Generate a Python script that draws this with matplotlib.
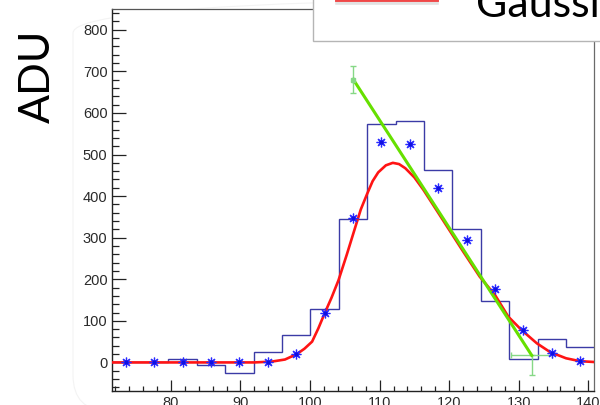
import numpy as np
import matplotlib
matplotlib.use('Agg')
import matplotlib.pyplot as plt
from matplotlib.patches import Rectangle, FancyBboxPatch
from matplotlib.lines import Line2D
from matplotlib.ticker import MultipleLocator
from matplotlib.transforms import IdentityTransform

# Histogram binning (17 bins)
bin_lo = 71.5
bin_width = 4.08
n_bins = 17

# Histogram contents (blue steps)
hist_counts = [0, 0, 8, -5, -26, 24, 66, 128, 344, 573, 580, 462, 320, 148, 9, 56, 37]

# Per-bin points drawn as stars
star_counts = [0, 0, 0, 0, 0, 0, 20, 119, 347, 530, 525, 419, 295, 177, 78, 22, 3]

# Gaussian fit curve sampled along x
fit_x = [71.5, 80, 88, 92, 94.5, 96.4, 98.1, 99.2, 100.3, 101.2, 102.1, 103.1,
         104.1, 105.3, 106.5, 107.3, 108.2, 109.0, 109.8, 110.9, 111.9, 112.8,
         113.7, 115.0, 116.3, 118.0, 120.0, 122.0, 124.4, 126.6, 128.5, 130.4,
         132.6, 134.5, 136.8, 138.8, 140.86]
fit_y = [0, 0, 0, 0, 2, 7, 20, 33, 50, 82, 118, 156,
         198, 260, 325, 368, 405, 436, 457, 474, 480, 477,
         467, 445, 415, 371, 319, 267, 206, 162, 110, 78,
         46, 25, 10, 3, 1]

# Falling-edge line with its two end points
edge_x = [106.24, 131.87]
edge_y = [680, 17]
edge_xerr = [[0, 2.97], [0, 2.97]]
edge_yerr = [[33, 48], [33, 0]]

edges = bin_lo + bin_width * np.arange(n_bins + 1)
centers = edges[:-1] + bin_width / 2

fig = plt.figure(figsize=(6, 4.05), dpi=100)
ax = fig.add_axes([0.1862, 0.0353, 0.8043, 0.9425])

ax.stairs(hist_counts, edges, baseline=None, color='#3b3ba6', linewidth=1.0, zorder=2)
ax.plot(fit_x, fit_y, color='#ff1414', linewidth=1.9, zorder=3, solid_capstyle='round')
ax.errorbar(edge_x, edge_y, xerr=edge_xerr, yerr=edge_yerr, fmt='none',
            ecolor='#86d886', elinewidth=1.0, capsize=2.5, capthick=1.0, zorder=4)
ax.plot(edge_x, edge_y, color='#66e000', linewidth=2.2, zorder=4)
ax.plot(edge_x[:1], edge_y[:1], 's', color='#86d886', markersize=3, zorder=4)
ax.plot(centers, star_counts, linestyle='none', marker=(8, 2, 0), markersize=7,
        markeredgewidth=0.9, color='#2a2aff', zorder=5)
ax.plot(centers, star_counts, linestyle='none', marker='o', markersize=1.8,
        color='#1010e0', zorder=5)

ax.set_xlim(edges[0], edges[-1])
ax.set_ylim(-68, 850)
ax.xaxis.set_major_locator(MultipleLocator(10))
ax.xaxis.set_minor_locator(MultipleLocator(2))
ax.yaxis.set_major_locator(MultipleLocator(100))
ax.yaxis.set_minor_locator(MultipleLocator(20))
ax.set_yticks(range(0, 900, 100))

ax.tick_params(axis='both', which='both', direction='in', color='#222222',
               labelcolor='#2a2a2a', labelsize=10.5, width=0.9, top=False, right=False)
ax.tick_params(axis='y', which='major', length=10, pad=3)
ax.tick_params(axis='y', which='minor', length=5)
ax.tick_params(axis='x', which='major', length=8, pad=4)
ax.tick_params(axis='x', which='minor', length=3.8)
for lbl in ax.get_xticklabels() + ax.get_yticklabels():
    lbl.set_fontfamily('Liberation Sans')

ax.spines['left'].set_color('#222222')
ax.spines['bottom'].set_color('#222222')
ax.spines['left'].set_linewidth(1.0)
ax.spines['bottom'].set_linewidth(1.0)
ax.spines['top'].set_color('#555555')
ax.spines['right'].set_color('#6a6a6a')
ax.spines['top'].set_linewidth(0.9)
ax.spines['right'].set_linewidth(0.9)

# faint rounded canvas border
fig.add_artist(FancyBboxPatch((73, -6), 700, 414, boxstyle='round,pad=0,rounding_size=36',
                              transform=IdentityTransform(), facecolor='none',
                              edgecolor='#f3f3f3', linewidth=0.8, zorder=-1))

# y title
fig.text(37.5 / 600, 1 - 76.7 / 405, 'ADU', rotation=90, ha='center', va='center',
         fontsize=31, fontfamily='Lato', color='black')

# legend box in the top-right corner
fig.add_artist(Rectangle((313.3 / 600, 1 - 41 / 405), 0.6, 0.2, transform=fig.transFigure,
                         facecolor='white', edgecolor='#b5b5b5', linewidth=1.0, zorder=6))
fig.add_artist(Line2D([337 / 600, 437 / 600], [1 - 3.4 / 405, 1 - 3.4 / 405],
                      transform=fig.transFigure, color='#a0a0a0', alpha=0.3,
                      linewidth=2.6, zorder=7))
fig.add_artist(Line2D([337 / 600, 437 / 600], [1 - 0.2 / 405, 1 - 0.2 / 405],
                      transform=fig.transFigure, color='#f04848', linewidth=2.8, zorder=8))
fig.text(475.7 / 600, 1 - 16.7 / 405, 'Gaussian', ha='left', va='baseline',
         fontsize=31, fontfamily='Lato', color='black', zorder=8)

fig.savefig('out.png', dpi=100)
